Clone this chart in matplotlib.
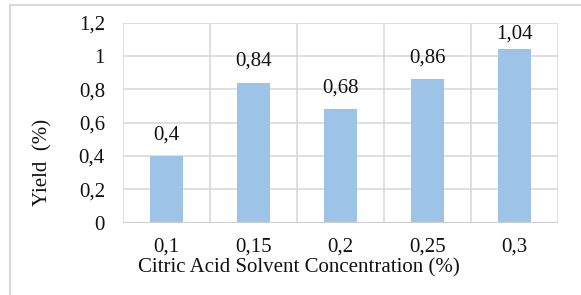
import matplotlib
matplotlib.use("Agg")
import matplotlib.pyplot as plt
from matplotlib.patches import Rectangle
import numpy as np

categories = ["0,1", "0,15", "0,2", "0,25", "0,3"]
values = [0.40, 0.84, 0.68, 0.86, 1.04]
value_labels = ["0,4", "0,84", "0,68", "0,86", "1,04"]
yticks = [0, 0.2, 0.4, 0.6, 0.8, 1.0, 1.2]
ytick_labels = ["0", "0,2", "0,4", "0,6", "0,8", "1", "1,2"]

plt.rcParams['font.family'] = ['Liberation Serif', 'DejaVu Serif']
FS = 15

fig = plt.figure(figsize=(5.81, 2.95), dpi=100)
ax_h_px = 222.7 - 22.7
ax = fig.add_axes([123/581, 1-222.7/295, (558-123)/581, ax_h_px/295])

grid_c = "#D9D9D9"
x = np.arange(len(categories))
ax.bar(x, values, width=0.39, color="#9DC3E6", zorder=3)
ymax = 1.2
label_h_pt = 23.7  # label box height incl. offset, in points
for xi, v, lab in zip(x, values, value_labels):
    # keep label inside the plot area (as Excel does)
    room_pt = (ymax - v) / ymax * ax_h_px * 72 / 100
    off = min(8.5, room_pt - (label_h_pt - 8.5))
    ax.annotate(lab, (xi, v), xytext=(0, off), textcoords="offset points",
                ha="center", va="bottom", fontsize=FS, color="#111111")

ax.set_xlim(-0.5, len(categories)-0.5)
ax.set_ylim(0, ymax)
ax.set_yticks(yticks)
ax.set_yticklabels(ytick_labels, fontsize=FS)
ax.set_xticks(x)
ax.set_xticklabels(categories, fontsize=FS)
ax.set_xticks(np.arange(-0.5, len(categories), 1.0), minor=True)
ax.tick_params(axis='both', which='both', length=0, colors="#111111")
ax.tick_params(axis='x', pad=11)
ax.tick_params(axis='y', pad=13)
ax.grid(True, axis='y', which='major', color=grid_c, linewidth=1.2, zorder=0)
ax.grid(True, axis='x', which='minor', color=grid_c, linewidth=1.2, zorder=0)
for s in ax.spines.values():
    s.set_visible(False)
ax.axhline(0, color="#CFCFCF", linewidth=1.6, zorder=4)

ax.set_xlabel("Citric Acid Solvent Concentration (%)", fontsize=FS, color="#111111")
ax.set_ylabel("Yield  (%)", fontsize=FS, color="#111111")
ax.xaxis.set_label_coords(0.405, -0.177)
ax.yaxis.set_label_coords(-0.163, 0.30)

fig.patches.append(Rectangle((10/581, -0.1), 1.0, 1.1 - 5/295, transform=fig.transFigure,
                             fill=False, edgecolor="#D9D9D9", linewidth=1.5))

fig.savefig("out.png", dpi=100)
